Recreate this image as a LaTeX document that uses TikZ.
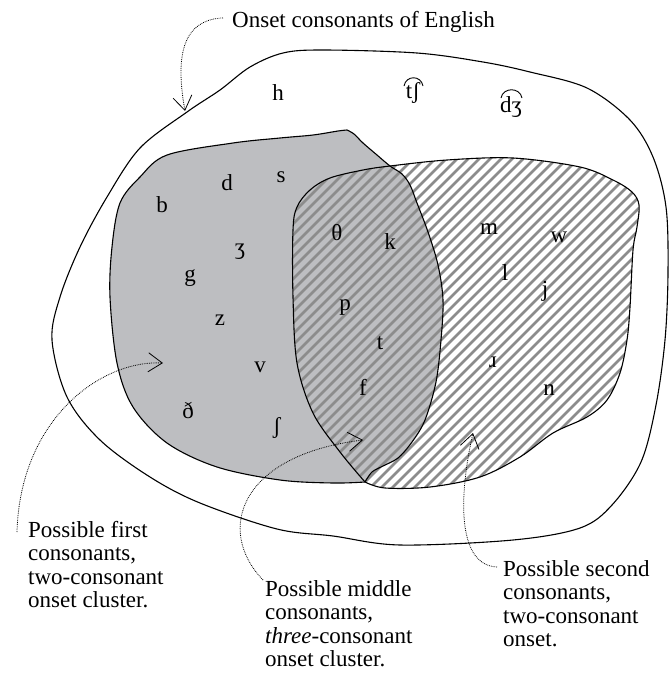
\documentclass[tikz,border=0pt]{standalone}
\usepackage{fontspec}
\setmainfont{Liberation Serif}
\usetikzlibrary{arrows.meta}
\definecolor{blobgray}{RGB}{189,190,193}
\definecolor{stripegray}{RGB}{140,140,140}
\newcommand{\outerpath}{plot[smooth cycle, tension=0.55] coordinates {(323,50) (417,53) (483,62) (530,72) (587,88) (630,120) (653,157) (666,207) (668,273) (665,340) (656,405) (641,462) (612,505) (580,528) (513,540) (400,545) (333,536) (277,529) (200,503) (150,477) (100,440) (67,397) (52,340) (60,297) (80,247) (107,197) (140,148) (187,112) (220,90) (250,67) (283,53)}}
\newcommand{\firstpath}{(365,482) -- plot[smooth, tension=0.55] coordinates {(365,482) (333,483) (280,480) (217,467) (167,443) (133,407) (117,363) (110,297) (112,247) (120,203) (140,177) (167,155) (233,143) (280,138) (313,135) (338,131) (347,130)} -- plot[smooth, tension=0.55] coordinates {(347,130) (354,134) (363,143) (377,155) (390,166) (402,174) (410,185) (417,203) (428,232) (438,265) (443,300) (441,340) (436,382) (425,420) (412,442) (398,458) (383,466) (372,472) (365,482)} -- cycle}
\newcommand{\secondpath}{(365,482) -- plot[smooth, tension=0.55] coordinates {(365,482) (340,452) (313,413) (297,363) (293,297) (293,230) (297,207) (310,190) (330,178) (363,170) (390,166) (447,160) (513,158) (580,167) (613,180) (632,192) (639,205) (637,227) (633,250) (630,307) (627,340) (620,373) (607,400) (587,417) (553,433) (520,457) (480,477) (430,487) (385,488) (365,482)} -- cycle}
\begin{document}
\begin{tikzpicture}[x=1pt,y=-1pt,
  lbl/.style={font=\fontsize{23}{23.5}\selectfont, inner sep=0pt},
  ipa/.style={font=\fontsize{23}{23.5}\selectfont, inner sep=0pt},
  outline/.style={line width=1.1pt},
  pointer/.style={line width=0.8pt, dash pattern=on 0.8pt off 1.0pt,
    -{Straight Barb[length=14pt,width=19pt,line width=0.8pt]}},
  tiebar/.style={line width=0.9pt}]
\fill[white] (0,0) rectangle (670,678);
\useasboundingbox (0,0) rectangle (670,678);
% first-consonant region
\fill[blobgray] \firstpath;
% second-consonant region: stripes
\begin{scope}
  \clip \secondpath;
  \foreach \c in {440,451,...,1150} {
    \draw[stripegray, line width=2.5pt] (\c-140,140) -- (\c-510,510);
  }
\end{scope}
% outlines
\draw[outline] \outerpath;
\draw[outline] \firstpath;
\draw[outline] \secondpath;
% consonants
\node[ipa] (h) at (278,93) {h};
\node[ipa] (tsh) at (413,93) {tʃ};
\node[ipa] (dzh) at (511,107) {dʒ};
\draw[tiebar] (404,86) .. controls (406,75) and (421,75) .. (423,86);
\draw[tiebar] (501,98) .. controls (503,87) and (520,87) .. (522,98);
\node[ipa] (b) at (162,205) {b};
\node[ipa] (d) at (227,183) {d};
\node[ipa] (s) at (281,177) {s};
\node[ipa] (theta) at (337,233) {θ};
\node[ipa] (k) at (390,242) {k};
\node[ipa] (zh) at (240,252) {ʒ};
\node[ipa] (g) at (190,278) {g};
\node[ipa] (p) at (345,308) {p};
\node[ipa] (z) at (220,320) {z};
\node[ipa] (t) at (380,343) {t};
\node[ipa] (v) at (260,367) {v};
\node[ipa] (f) at (363,387) {f};
\node[ipa] (eth) at (188,410) {ð};
\node[ipa] (sh) at (277,428) {ʃ};
\node[ipa] (m) at (489,229) {m};
\node[ipa] (w) at (559,237) {w};
\node[ipa] (l) at (505,273) {l};
\node[ipa] (j) at (545,291) {j};
\node[ipa] (r) at (493,362) {ɹ};
\node[ipa] (n) at (549,390) {n};
% labels
\node[lbl, anchor=base west] (onset) at (232,27) {Onset consonants of English};
\node[lbl, align=left, anchor=north west] (first) at (28,521) {Possible first\\consonants,\\two-consonant\\onset cluster.};
\node[lbl, align=left, anchor=north west] (middle) at (265,580) {Possible middle\\consonants,\\\textit{three}-consonant\\onset cluster.};
\node[lbl, align=left, anchor=north west] (second) at (503,560) {Possible second\\consonants,\\two-consonant\\onset.};
% arrow tips
\coordinate (tipOuter) at (185,111);
\coordinate (tipFirst) at (163,363);
\coordinate (tipMiddle) at (363,440);
\coordinate (tipSecond) at (473,433);
\draw[pointer] ([xshift=-9pt,yshift=3.5pt]onset.west) .. controls (180,20) and (176,60) .. (tipOuter);
\draw[pointer] ([xshift=-11pt,yshift=-11pt]first.north west) .. controls (20,420) and (100,360) .. (tipFirst);
\draw[pointer] ([xshift=-2pt]middle.north west) .. controls (215,530) and (240,455) .. (tipMiddle);
\draw[pointer] ([xshift=-6pt,yshift=-7pt]second.north west) .. controls (455,565) and (460,490) .. (tipSecond);
\end{tikzpicture}
\end{document}
